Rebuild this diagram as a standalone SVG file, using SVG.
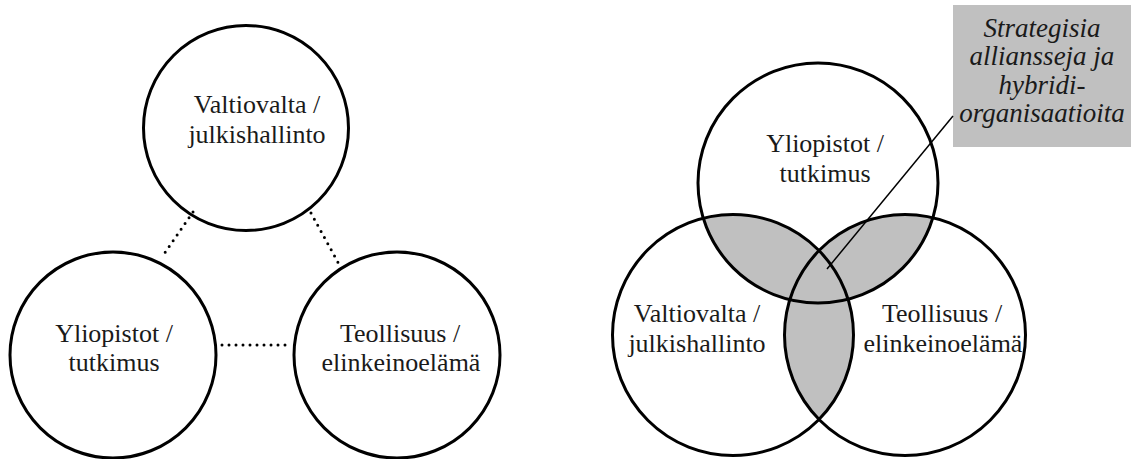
<svg xmlns="http://www.w3.org/2000/svg" width="1133" height="459" viewBox="0 0 1133 459">
  <style>
    .ring { fill: none; stroke: #000; stroke-width: 3; }
    .lbl { font-family: 'Liberation Serif', 'Times New Roman', serif; font-size: 26px; fill: #1a1a1a; text-anchor: middle; }
    .note { font-family: 'Liberation Serif', 'Times New Roman', serif; font-size: 27px; font-style: italic; fill: #1a1a1a; text-anchor: middle; }
    .dots { fill: none; stroke: #000; stroke-width: 3; stroke-linecap: round; stroke-dasharray: 0 7; }
    .overlap { fill: #c0c0c0; }
  </style>
  <defs>
    <clipPath id="clipLeft"><circle cx="733" cy="335" r="120.5"/></clipPath>
    <clipPath id="clipRight"><circle cx="905" cy="335" r="120.5"/></clipPath>
  </defs>
  <rect width="1133" height="459" fill="#fff"/>

  <!-- Left: three separate actors linked by dotted lines -->
  <g id="connectors">
    <line class="dots" x1="193" y1="212" x2="162" y2="257"/>
    <line class="dots" x1="311" y1="213" x2="340" y2="266"/>
    <line class="dots" x1="222" y1="345" x2="286" y2="345"/>
  </g>
  <g id="node-state">
    <circle class="ring" cx="246" cy="128" r="102.5"/>
    <text class="lbl" x="257" y="113">Valtiovalta /</text>
    <text class="lbl" x="257" y="143">julkishallinto</text>
  </g>
  <g id="node-university">
    <circle class="ring" cx="113" cy="355" r="103"/>
    <text class="lbl" x="114" y="342">Yliopistot /</text>
    <text class="lbl" x="114" y="371">tutkimus</text>
  </g>
  <g id="node-industry">
    <circle class="ring" cx="397" cy="355" r="103"/>
    <text class="lbl" x="400" y="342">Teollisuus /</text>
    <text class="lbl" x="401" y="371">elinkeinoelämä</text>
  </g>

  <!-- Right: overlapping actors, shared zones shaded -->
  <g id="overlaps">
    <circle class="overlap" cx="818" cy="183" r="120" clip-path="url(#clipLeft)"/>
    <circle class="overlap" cx="818" cy="183" r="120" clip-path="url(#clipRight)"/>
    <circle class="overlap" cx="733" cy="335" r="120.5" clip-path="url(#clipRight)"/>
  </g>
  <g id="node-university-2">
    <circle class="ring" cx="818" cy="183" r="120"/>
    <text class="lbl" x="825" y="152">Yliopistot /</text>
    <text class="lbl" x="825" y="182">tutkimus</text>
  </g>
  <g id="node-state-2">
    <circle class="ring" cx="733" cy="335" r="120.5"/>
    <text class="lbl" x="697" y="322">Valtiovalta /</text>
    <text class="lbl" x="697" y="352">julkishallinto</text>
  </g>
  <g id="node-industry-2">
    <circle class="ring" cx="905" cy="335" r="120.5"/>
    <text class="lbl" x="942" y="322">Teollisuus /</text>
    <text class="lbl" x="943" y="352">elinkeinoelämä</text>
  </g>
  <g id="node-hybrid">
    <rect x="953" y="5" width="178" height="142" fill="#c0c0c0"/>
    <text class="note" x="1042" y="37">Strategisia</text>
    <text class="note" x="1042" y="65">alliansseja ja</text>
    <text class="note" x="1042" y="94">hybridi-</text>
    <text class="note" x="1042" y="122">organisaatioita</text>
  </g>
  <g id="leader">
    <line x1="827" y1="269" x2="953" y2="116" stroke="#000" stroke-width="1.5"/>
  </g>
</svg>
